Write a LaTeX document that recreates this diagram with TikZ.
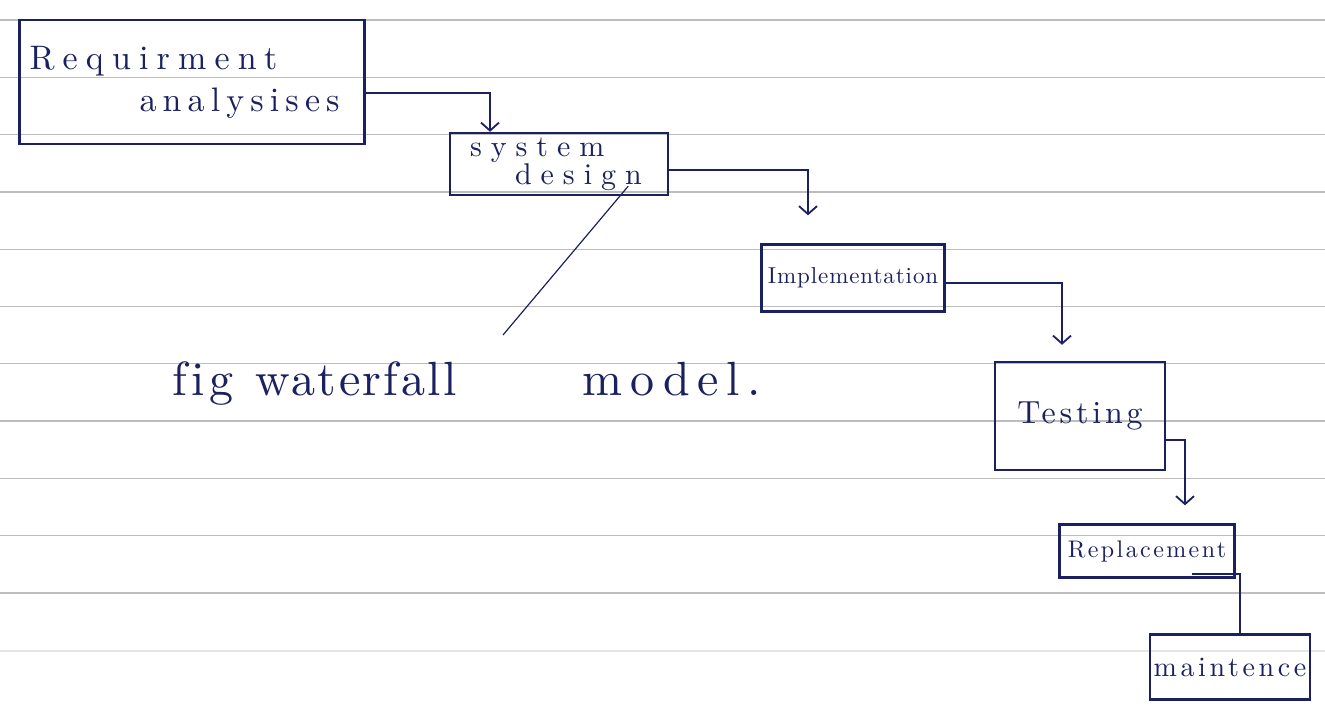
\documentclass[tikz,border=0pt]{standalone}
\usepackage{fontspec}
\usetikzlibrary{arrows.meta}
\newfontfamily\handA{lmroman10-regular.otf}[LetterSpace=24,Ligatures=NoCommon]
\newfontfamily\handAA{lmroman10-regular.otf}[LetterSpace=18,Ligatures=NoCommon]
\newfontfamily\handB{lmroman10-regular.otf}[LetterSpace=30,Ligatures=NoCommon]
\newfontfamily\handC{lmroman10-regular.otf}[LetterSpace=4,Ligatures=NoCommon]
\newfontfamily\handD{lmroman10-regular.otf}[LetterSpace=12,Ligatures=NoCommon]
\newfontfamily\handE{lmroman10-regular.otf}[LetterSpace=13,Ligatures=NoCommon]
\newfontfamily\handF{lmroman10-regular.otf}[LetterSpace=10,Ligatures=NoCommon]
\newfontfamily\handG{lmroman10-regular.otf}[LetterSpace=16,Ligatures=NoCommon]
\newfontfamily\handI{lmroman10-regular.otf}[LetterSpace=5,Ligatures=NoCommon]
\definecolor{ink}{HTML}{1B2160}
\definecolor{paperline}{HTML}{BDBDBD}
\newcommand{\fsz}[2]{\fontsize{#1}{#2}\selectfont}
\tikzset{
  stagebox/.style={draw=ink, line width=2.4pt, inner sep=0pt, text=ink, align=center},
  flow/.style={draw=ink, line width=2.2pt},
  flowarr/.style={flow, -{Straight Barb[length=8pt,width=18pt,line width=1.8pt]}},
  rule/.style={draw=paperline, line width=1.3pt},
}
\begin{document}
\begin{tikzpicture}[x=1pt,y=-1pt]
\useasboundingbox[fill=white] (0,0) rectangle (1325,709);
% ruled paper
\foreach \k in {0,...,10} {\draw[rule] (0,{20+57.3*\k}) -- (1325,{20+57.3*\k});}
\draw[rule, draw=paperline!40] (0,651) -- (1325,651);
% stages
\node[stagebox, minimum width=345pt, minimum height=124pt, align=left, text width=325pt,
      font=\handA\fsz{34}{42}] (req) at (192,82)
      {Requirment\\\hspace*{110pt}{\handAA analysises}};
\node[stagebox, minimum width=218pt, minimum height=62pt, align=left, text width=200pt,
      font=\handB\fsz{30}{23}] (sys) at (559,164)
      {\hspace*{11pt}system\\\hspace*{56pt}design};
\node[stagebox, minimum width=183pt, minimum height=67pt,
      font=\handC\fsz{23}{24}] (impl) at (853,278) {Implementation};
\node[stagebox, minimum width=170pt, minimum height=108pt,
      font=\handD\fsz{32}{34}] (test) at (1080,416) {Testing};
\node[stagebox, minimum width=175pt, minimum height=53pt,
      font=\handF\fsz{24}{26}] (rep) at (1147,551) {Replacement};
\node[stagebox, minimum width=160pt, minimum height=65pt,
      font=\handE\fsz{28}{30}] (maint) at (1230,667) {maintence};
% caption
\node[text=ink, font=\handF\fsz{48}{50}, anchor=base west, inner sep=0pt] (cap) at (172,395)
      {fig\hspace{22pt}{\handI waterfall}\hspace{126pt}{\handG model.}};
\coordinate (ptr) at (503,335);
% connectors
\draw[flowarr] ([yshift=-11pt]req.east) -| ([xshift=-69pt]sys.north);
\draw[flowarr, shorten >=28pt] ([yshift=-6pt]sys.east) -| ([xshift=-45pt]impl.north);
\draw[flowarr, shorten >=16pt] ([yshift=-5pt]impl.east) -| ([xshift=-18pt]test.north);
\draw[flowarr, shorten >=18pt] ([yshift=-24pt]test.east) -| ([xshift=38pt]rep.north);
\draw[flow] ([xshift=45pt,yshift=5pt]rep.south) -| ([xshift=10pt]maint.north);
\draw[draw=ink, line width=1.2pt] ([xshift=-41pt,yshift=10pt]sys.south east) -- (ptr);
\end{tikzpicture}
\end{document}
